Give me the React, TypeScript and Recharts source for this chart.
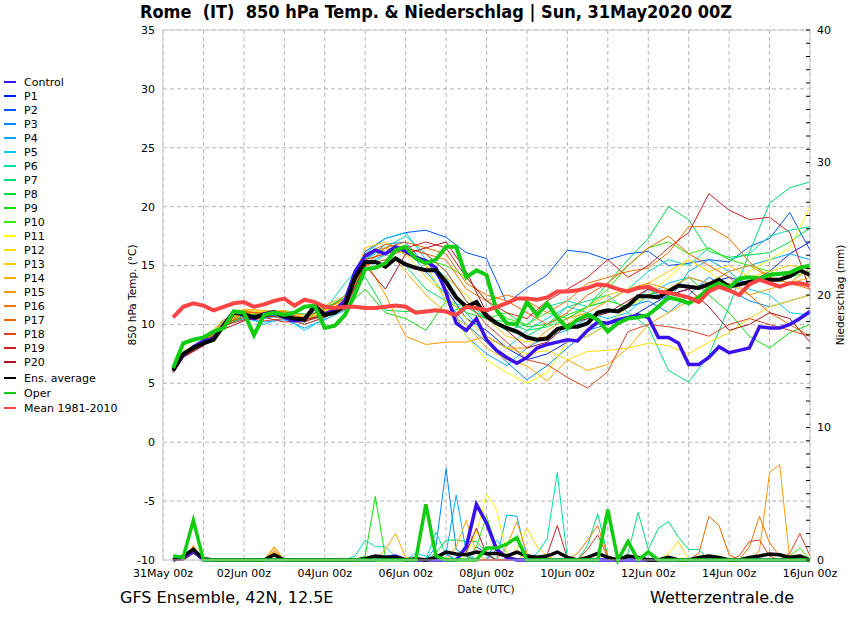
import React from "react";
import { CartesianGrid, Line, LineChart, ReferenceLine, XAxis, YAxis } from "recharts";

const FONT = '"DejaVu Sans", sans-serif';

// time axis: hours after 31May2020 00z, 6-hourly steps
const HOURS = Array.from({ length: 64 }, (_, i) => 6 + i * 6);
const MEMBER_HOURS = [6, 12, 24, 36, 48, 60, 72, 84, 96, 108, 120, 132, 144, 156, 168, 180, 192, 204, 216, 228, 240, 252, 264, 276, 288, 300, 312, 324, 336, 348, 360, 372, 384];

const DAY_TICKS = [0, 24, 48, 72, 96, 120, 144, 168, 192, 216, 240, 264, 288, 312, 336, 360, 384];
const DAY_LABELS = ["31May 00z", "02Jun 00z", "04Jun 00z", "06Jun 00z", "08Jun 00z", "10Jun 00z", "12Jun 00z", "14Jun 00z", "16Jun 00z"];
const TEMP_TICKS = [-10, -5, 0, 5, 10, 15, 20, 25, 30, 35];
const RAIN_TICKS = Array.from({ length: 41 }, (_, i) => i);

// 850 hPa temperature (°C), 6-hourly
const CONTROL_T = [6.1, 7.4, 8.1, 8.6, 8.8, 10.0, 11.1, 10.8, 10.5, 10.9, 11.1, 10.6, 10.3, 10.5, 11.4, 10.9, 11.2, 12.0, 14.5, 15.8, 16.3, 16.0, 16.6, 16.2, 15.7, 15.4, 14.8, 12.7, 10.1, 9.5, 10.5, 8.7, 7.8, 7.2, 6.7, 7.2, 8.0, 8.3, 8.5, 8.7, 8.6, 9.5, 10.2, 10.1, 10.4, 10.6, 10.8, 10.6, 8.9, 8.9, 8.4, 6.6, 6.6, 7.2, 8.1, 7.6, 7.8, 8.0, 9.8, 9.7, 9.7, 10.0, 10.5, 11.1];
const AVG_T = [6.1, 7.5, 8.0, 8.4, 8.7, 9.9, 11.0, 10.9, 10.6, 10.8, 11.0, 10.7, 10.5, 10.4, 11.6, 10.8, 11.0, 11.6, 14.0, 15.3, 15.3, 14.9, 15.6, 15.1, 14.8, 14.6, 14.6, 13.6, 12.3, 11.5, 11.9, 10.7, 10.1, 9.7, 9.4, 8.9, 8.7, 8.8, 9.6, 9.8, 9.8, 10.1, 11.0, 11.2, 11.1, 11.6, 12.4, 12.4, 12.3, 12.8, 13.3, 13.2, 13.1, 13.4, 13.8, 13.2, 13.4, 13.6, 13.9, 13.8, 13.8, 14.1, 14.6, 14.2];
const OPER_T = [6.3, 8.4, 8.7, 8.9, 9.4, 9.7, 11.1, 11.0, 9.1, 10.8, 11.0, 10.8, 11.0, 11.5, 11.6, 9.7, 9.9, 10.8, 12.6, 14.7, 14.8, 15.2, 16.3, 16.6, 15.6, 15.2, 15.5, 16.6, 16.6, 14.0, 14.6, 14.2, 11.2, 10.1, 10.0, 11.9, 10.8, 11.8, 10.6, 9.7, 10.4, 10.8, 10.4, 9.4, 10.1, 10.5, 10.6, 10.8, 11.5, 12.3, 12.1, 11.8, 12.3, 13.1, 13.5, 13.1, 13.9, 14.0, 13.9, 14.2, 14.3, 14.4, 14.8, 15.0];
const MEAN_T = [10.6, 11.5, 11.8, 11.6, 11.2, 11.5, 11.8, 11.9, 11.5, 11.7, 12.0, 12.2, 11.6, 12.1, 11.9, 11.5, 11.4, 11.5, 11.5, 11.4, 11.4, 11.5, 11.6, 11.5, 11.0, 11.1, 11.2, 11.1, 10.8, 11.5, 11.4, 11.2, 11.5, 11.8, 12.2, 12.2, 12.1, 12.3, 12.8, 12.8, 12.9, 13.1, 13.4, 13.3, 13.0, 12.8, 13.1, 13.2, 12.8, 12.7, 12.5, 12.3, 11.9, 12.8, 13.2, 12.9, 12.5, 13.4, 13.8, 13.5, 13.2, 13.5, 13.5, 13.3];

// members, 12-hourly (first value at 06z)
const P1_T = [6.1, 7.4, 8.5, 10.1, 10.8, 10.9, 10.8, 10.2, 10.9, 12.0, 16.0, 16.5, 16.0, 15.5, 13.0, 10.5, 9.5, 8.0, 7.0, 7.5, 8.5, 9.0, 10.0, 10.5, 11.5, 12.5, 13.0, 13.5, 14.0, 13.5, 14.5, 16.0, 17.0];
const P2_T = [6.2, 7.6, 8.5, 10.1, 10.8, 10.9, 10.6, 10.5, 10.9, 11.8, 16.2, 17.3, 17.8, 18.0, 17.4, 16.1, 15.6, 11.8, 13.1, 14.2, 16.3, 16.1, 15.5, 16.0, 16.2, 15.0, 15.2, 15.5, 15.3, 16.6, 17.3, 19.5, 16.3];
const P3_T = [6.0, 7.3, 8.3, 10.4, 11.0, 10.5, 10.9, 10.0, 10.6, 11.5, 15.5, 16.8, 17.0, 15.0, 12.0, 10.0, 8.5, 6.8, 5.3, 6.5, 8.0, 9.5, 10.0, 11.5, 12.0, 11.0, 12.5, 14.0, 13.0, 12.0, 11.5, 12.0, 12.5];
const P4_T = [6.1, 7.5, 8.2, 10.0, 10.5, 10.2, 10.4, 9.7, 10.4, 11.2, 15.0, 16.0, 16.5, 14.5, 12.5, 9.0, 7.5, 6.5, 8.0, 9.0, 9.5, 10.5, 11.0, 11.5, 13.0, 12.0, 14.5, 15.5, 14.5, 15.0, 15.5, 16.0, 15.5];
const P5_T = [6.2, 7.6, 8.6, 10.2, 10.7, 10.0, 10.6, 9.5, 10.5, 12.2, 16.0, 17.3, 17.8, 15.5, 14.0, 11.0, 9.0, 8.0, 9.5, 10.5, 11.5, 11.0, 10.5, 11.0, 12.5, 13.5, 14.0, 13.5, 14.5, 13.0, 12.5, 11.0, 10.8];
const P6_T = [6.0, 7.4, 8.4, 9.8, 11.0, 10.9, 11.2, 10.8, 11.2, 13.5, 15.5, 16.5, 17.5, 16.0, 14.5, 12.0, 10.5, 9.5, 10.0, 11.5, 12.0, 11.5, 12.0, 13.0, 14.5, 15.5, 15.0, 16.5, 15.5, 16.0, 17.5, 18.0, 18.3];
const P7_T = [6.1, 7.5, 8.5, 10.3, 11.1, 11.0, 11.0, 10.9, 11.0, 12.5, 14.5, 16.0, 15.0, 13.0, 12.0, 11.5, 10.5, 9.5, 9.0, 10.0, 11.5, 12.0, 12.5, 11.0, 9.8, 6.1, 5.1, 7.4, 11.5, 16.1, 20.3, 21.6, 22.1];
const P8_T = [6.2, 7.7, 8.6, 10.0, 10.9, 10.7, 10.6, 10.6, 11.4, 12.3, 14.0, 11.2, 11.1, 11.2, 11.0, 11.5, 10.5, 10.2, 9.5, 9.8, 10.5, 11.5, 13.5, 15.5, 17.3, 20.0, 18.9, 16.2, 15.7, 15.9, 16.1, 17.0, 18.2];
const P9_T = [6.0, 7.4, 8.3, 9.9, 10.6, 10.8, 10.9, 10.5, 10.7, 11.4, 13.0, 11.0, 10.5, 9.5, 12.0, 11.0, 10.5, 11.0, 9.8, 10.0, 10.8, 11.5, 12.0, 11.5, 12.5, 13.0, 14.0, 12.5, 11.0, 9.0, 8.0, 9.3, 10.0];
const P10_T = [6.1, 7.5, 8.4, 10.1, 10.7, 10.9, 11.0, 10.3, 11.5, 12.0, 15.0, 16.5, 16.0, 15.5, 15.0, 14.0, 12.0, 10.5, 10.0, 11.0, 10.5, 11.5, 13.0, 15.0, 16.5, 17.0, 16.0, 16.5, 15.5, 15.0, 14.5, 14.0, 14.5];
const P11_T = [6.2, 7.6, 8.5, 10.2, 11.0, 11.1, 10.8, 10.5, 10.8, 11.6, 15.5, 16.0, 16.5, 15.0, 12.0, 9.0, 7.0, 5.9, 5.0, 5.9, 8.5, 9.0, 10.0, 11.5, 12.5, 14.0, 15.5, 14.5, 13.0, 14.5, 15.5, 16.5, 20.0];
const P12_T = [6.1, 7.5, 8.6, 10.0, 10.9, 11.0, 10.7, 10.6, 11.1, 11.8, 15.8, 16.5, 16.0, 14.0, 12.5, 10.5, 9.0, 8.0, 7.5, 7.8, 7.0, 7.7, 7.8, 8.0, 8.4, 8.2, 7.5, 8.5, 9.3, 10.5, 11.5, 12.0, 12.5];
const P13_T = [6.0, 7.5, 8.4, 10.3, 11.2, 11.1, 11.2, 10.6, 11.2, 12.1, 16.5, 17.0, 16.0, 15.0, 14.0, 12.5, 10.5, 9.0, 8.5, 9.0, 10.0, 11.5, 12.5, 13.0, 13.5, 14.5, 15.5, 14.5, 15.0, 14.0, 14.5, 15.0, 14.8];
const P14_T = [6.2, 7.7, 8.7, 10.4, 11.3, 11.2, 11.1, 10.8, 11.6, 12.4, 16.0, 16.5, 14.5, 12.5, 11.0, 10.0, 8.0, 7.0, 6.5, 5.2, 7.0, 6.1, 6.6, 8.0, 10.0, 11.0, 12.0, 13.0, 13.5, 12.5, 13.0, 13.5, 14.0];
const P15_T = [6.1, 7.6, 8.5, 10.2, 11.2, 10.8, 11.0, 10.4, 11.0, 12.0, 15.5, 12.5, 9.0, 8.3, 8.5, 8.5, 9.0, 8.0, 8.0, 9.5, 10.5, 11.0, 12.0, 13.0, 13.5, 13.0, 14.0, 13.5, 14.5, 15.0, 14.0, 13.5, 14.8];
const P16_T = [6.0, 7.4, 8.4, 9.8, 11.0, 11.0, 11.1, 10.2, 10.9, 11.9, 16.0, 16.8, 16.5, 16.0, 15.5, 13.0, 12.0, 12.5, 12.0, 11.0, 12.0, 13.5, 14.0, 14.5, 14.8, 16.1, 18.3, 18.3, 17.3, 15.3, 14.0, 13.5, 13.0];
const P17_T = [6.1, 7.5, 8.6, 10.0, 11.1, 10.9, 10.9, 10.6, 11.3, 12.2, 15.0, 16.5, 17.0, 16.5, 16.0, 13.5, 12.5, 12.0, 11.0, 10.0, 11.0, 12.5, 13.5, 15.0, 16.5, 17.5, 16.0, 15.0, 14.0, 12.5, 11.0, 10.0, 9.0];
const P18_T = [6.2, 7.6, 8.3, 10.1, 10.6, 10.3, 10.5, 10.0, 10.6, 11.3, 15.0, 15.5, 16.5, 16.0, 14.5, 12.0, 10.0, 8.5, 7.0, 6.6, 5.5, 4.6, 6.0, 9.4, 10.0, 9.8, 9.5, 9.0, 10.0, 10.5, 10.0, 9.5, 9.0];
const P19_T = [6.0, 7.3, 8.2, 9.9, 10.4, 10.6, 10.2, 10.3, 10.7, 11.7, 15.5, 16.0, 16.5, 17.0, 16.5, 14.0, 12.0, 11.0, 10.5, 12.0, 13.0, 14.0, 15.5, 14.0, 15.0, 16.5, 17.8, 21.1, 19.7, 18.9, 19.1, 17.8, 12.9];
const P20_T = [5.9, 7.2, 8.2, 9.6, 10.3, 10.7, 10.6, 10.4, 10.8, 11.5, 15.0, 13.0, 16.0, 16.5, 17.0, 14.5, 11.0, 9.5, 8.0, 8.5, 10.0, 10.5, 11.0, 12.0, 13.0, 12.5, 13.0, 11.5, 9.5, 10.0, 11.0, 10.5, 8.5];

// 6h precipitation (mm) as [hour, mm]; every other step is dry
const CONTROL_R = [[12, 0.2], [18, 0.7], [132, 0.2], [138, 0.3], [180, 1.0], [186, 4.2], [192, 2.8], [198, 0.8], [204, 0.2]];
const AVG_R = [[12, 0.3], [18, 0.8], [24, 0.1], [66, 0.4], [120, 0.1], [126, 0.3], [132, 0.2], [138, 0.2], [150, 0.1], [162, 0.2], [168, 0.6], [174, 0.45], [180, 0.4], [186, 0.6], [192, 0.5], [198, 0.5], [204, 0.3], [210, 0.6], [216, 0.3], [222, 0.2], [228, 0.3], [234, 0.6], [240, 0.2], [252, 0.2], [258, 0.5], [264, 0.2], [276, 0.3], [282, 0.2], [300, 0.2], [318, 0.2], [324, 0.3], [330, 0.2], [348, 0.2], [354, 0.3], [360, 0.45], [366, 0.4], [372, 0.2], [378, 0.3]];
const OPER_R = [[6, 0.3], [12, 0.2], [18, 3.0], [156, 4.2], [162, 0.3], [192, 0.9], [198, 0.9], [204, 1.2], [210, 1.7], [264, 3.8], [276, 1.4], [288, 0.6]];
const P1_R = [[12, 0.2], [18, 0.6], [186, 1.0], [192, 0.5]];
const P2_R = [[18, 0.5], [168, 0.5], [198, 0.8]];
const P3_R = [[18, 0.7], [162, 1.0], [168, 6.9], [174, 0.8], [180, 0.3]];
const P4_R = [[18, 0.5], [168, 0.5], [174, 4.9], [180, 0.6], [204, 3.4], [210, 3.3], [216, 0.2]];
const P5_R = [[18, 0.6], [150, 0.5], [156, 0.3], [198, 1.5], [204, 0.5]];
const P6_R = [[18, 0.7], [114, 0.3], [120, 1.5], [126, 1.0], [132, 1.0], [138, 0.2], [162, 2.1], [168, 0.4], [222, 0.5], [228, 1.6], [234, 6.6], [240, 0.1]];
const P7_R = [[18, 0.6], [252, 1.1], [258, 3.5], [264, 0.3], [276, 0.5], [282, 3.6], [288, 0.8], [294, 2.4], [300, 2.9], [306, 1.7], [312, 0.8], [318, 0.8]];
const P8_R = [[18, 0.8], [162, 0.5], [168, 1.5], [174, 1.5], [180, 1.4], [186, 1.4], [192, 0.5]];
const P9_R = [[18, 0.9], [120, 0.3], [126, 4.8], [132, 0.2]];
const P10_R = [[18, 0.8], [186, 1.0], [192, 3.3], [198, 1.0], [372, 0.3], [378, 0.9]];
const P11_R = [[18, 0.6], [180, 0.5], [186, 2.0], [192, 5.0], [198, 3.8], [204, 0.5]];
const P12_R = [[18, 0.7], [66, 0.5], [210, 0.8], [216, 2.4], [222, 1.0], [228, 0.3], [300, 0.5], [306, 1.4]];
const P13_R = [[18, 0.7], [66, 0.6], [216, 0.5]];
const P14_R = [[18, 1.0], [66, 0.9], [132, 0.8], [138, 2.0], [144, 0.2], [174, 1.0], [180, 3.0], [186, 0.5]];
const P15_R = [[18, 1.1], [66, 1.0], [204, 1.0], [210, 2.9], [216, 0.5], [354, 0.7], [360, 6.6], [366, 7.2]];
const P16_R = [[18, 1.0], [66, 0.7], [246, 0.5], [252, 1.5], [258, 2.6], [264, 0.3], [348, 1.0], [354, 3.3], [360, 1.3], [366, 0.3]];
const P17_R = [[18, 0.9], [66, 0.5], [318, 0.5], [324, 3.3], [330, 2.6], [336, 0.4]];
const P18_R = [[18, 0.8], [252, 0.8], [258, 1.9], [264, 0.2], [342, 0.3], [348, 1.4], [354, 1.5], [360, 0.3], [372, 0.5], [378, 2.0], [384, 0.3]];
const P19_R = [[18, 0.6], [228, 0.4], [234, 2.6], [240, 0.1]];
const P20_R = [[18, 0.5], [180, 0.6], [186, 2.4], [192, 0.4]];

const MEMBER_NAMES = ["P1", "P2", "P3", "P4", "P5", "P6", "P7", "P8", "P9", "P10", "P11", "P12", "P13", "P14", "P15", "P16", "P17", "P18", "P19", "P20"];
const MEMBER_COLORS = ["#0022ee", "#0055ff", "#0088ff", "#00aaff", "#00ccee", "#00ddaa", "#00dd77", "#00dd44", "#11dd11", "#33ee00", "#ffff00", "#ffdd00", "#ffcc00", "#ffaa00", "#ff9900", "#ee7700", "#ee6600", "#dd4422", "#cc2222", "#aa1122"];
const MEMBER_T = [P1_T, P2_T, P3_T, P4_T, P5_T, P6_T, P7_T, P8_T, P9_T, P10_T, P11_T, P12_T, P13_T, P14_T, P15_T, P16_T, P17_T, P18_T, P19_T, P20_T];
const MEMBER_R = [P1_R, P2_R, P3_R, P4_R, P5_R, P6_R, P7_R, P8_R, P9_R, P10_R, P11_R, P12_R, P13_R, P14_R, P15_R, P16_R, P17_R, P18_R, P19_R, P20_R];

const CONTROL_COLOR = "#3a10f0";
const OPER_COLOR = "#11cc11";
const MEAN_COLOR = "#ff4444";

const rainAt = (pairs: number[][], h: number) => {
  const hit = pairs.find((p) => p[0] === h);
  return hit ? hit[1] : 0;
};

const rows = HOURS.map((h, i) => {
  const row: Record<string, number | null> = {
    h,
    ctrl: CONTROL_T[i],
    avg: AVG_T[i],
    oper: OPER_T[i],
    mean: MEAN_T[i],
    rCtrl: rainAt(CONTROL_R, h),
    rAvg: rainAt(AVG_R, h),
    rOper: rainAt(OPER_R, h),
  };
  const k = MEMBER_HOURS.indexOf(h);
  MEMBER_NAMES.forEach((name, m) => {
    row["t" + name] = k >= 0 ? MEMBER_T[m][k] : null;
    row["r" + name] = rainAt(MEMBER_R[m], h);
  });
  return row;
});

const LEGEND = [
  ["Control", CONTROL_COLOR],
  ...MEMBER_NAMES.map((n, i) => [n, MEMBER_COLORS[i]]),
  ["Ens. average", "#000000"],
  ["Oper", OPER_COLOR],
  ["Mean 1981-2010", MEAN_COLOR],
];

function RainTick(props: any) {
  const { x, y, payload } = props;
  return (
    <g>
      <line x1={x - 4} x2={x} y1={y} y2={y} stroke="#000" strokeWidth={1} />
      {payload.value % 10 === 0 && (
        <text x={x + 7} y={y} dy="0.35em" fontSize={11} fontFamily={FONT} fill="#000">
          {payload.value}
        </text>
      )}
    </g>
  );
}

const tickStyle = { fontSize: 11, fill: "#000", fontFamily: FONT };

export default function App() {
  return (
    <div style={{ position: "absolute", left: 0, top: 0, width: 850, height: 620, background: "#fff", fontFamily: FONT }}>
      <div style={{ position: "absolute", left: 436, top: 12, transform: "translate(-50%, -50%)", whiteSpace: "nowrap", fontSize: 18, fontWeight: "bold", fontFamily: '"DejaVu Sans Condensed", "DejaVu Sans", sans-serif', fontStretch: "condensed", lineHeight: 1 }}>
        Rome&nbsp; (IT)&nbsp; 850 hPa Temp. &amp; Niederschlag | Sun, 31May2020 00Z
      </div>

      <LineChart width={850} height={620} data={rows} margin={{ top: 30, right: 0, left: 123, bottom: 40 }}>
        <CartesianGrid stroke="#b4b4b4" strokeDasharray="4 3" />
        <XAxis
          dataKey="h"
          type="number"
          domain={[0, 384]}
          ticks={DAY_TICKS}
          interval={0}
          tickFormatter={(v: number) => (v % 48 === 0 ? DAY_LABELS[v / 48] : "")}
          axisLine={{ stroke: "#cccccc" }}
          tickLine={false}
          tickSize={0}
          tickMargin={9}
          height={20}
          tick={tickStyle}
        />
        <YAxis
          domain={[-10, 35]}
          ticks={TEMP_TICKS}
          interval={0}
          width={40}
          axisLine={{ stroke: "#cccccc" }}
          tickLine={false}
          tickSize={0}
          tickMargin={8}
          tick={tickStyle}
        />
        <YAxis
          yAxisId="rain"
          orientation="right"
          domain={[0, 40]}
          ticks={RAIN_TICKS}
          interval={0}
          width={40}
          axisLine={{ stroke: "#cccccc" }}
          tickLine={false}
          tickSize={0}
          tickMargin={0}
          tick={<RainTick />}
        />
        <ReferenceLine y={35} stroke="#cccccc" />

        {MEMBER_NAMES.map((n, i) => (
          <Line key={"r" + n} yAxisId="rain" dataKey={"r" + n} stroke={MEMBER_COLORS[i]} strokeWidth={1} dot={false} isAnimationActive={false} />
        ))}
        {MEMBER_NAMES.map((n, i) => (
          <Line key={"t" + n} dataKey={"t" + n} stroke={MEMBER_COLORS[i]} strokeWidth={1} dot={false} connectNulls isAnimationActive={false} />
        ))}

        <Line yAxisId="rain" dataKey="rCtrl" stroke={CONTROL_COLOR} strokeWidth={3.5} dot={false} isAnimationActive={false} />
        <Line dataKey="ctrl" stroke={CONTROL_COLOR} strokeWidth={3.5} dot={false} isAnimationActive={false} />
        <Line yAxisId="rain" dataKey="rAvg" stroke="#000" strokeWidth={3.5} dot={false} isAnimationActive={false} />
        <Line dataKey="avg" stroke="#000" strokeWidth={4} dot={false} isAnimationActive={false} />
        <Line yAxisId="rain" dataKey="rOper" stroke={OPER_COLOR} strokeWidth={3.5} dot={false} isAnimationActive={false} />
        <Line dataKey="oper" stroke={OPER_COLOR} strokeWidth={4} dot={false} isAnimationActive={false} />
        <Line dataKey="mean" stroke={MEAN_COLOR} strokeWidth={4} dot={false} isAnimationActive={false} />
      </LineChart>

      {LEGEND.map(([name, color], i) => {
        const y = i <= 20 ? 82 + i * 14 : 378 + (i - 21) * 15;
        return (
          <div key={name} style={{ position: "absolute", left: 0, top: y - 7, height: 14, display: "flex", alignItems: "center", fontSize: 11, whiteSpace: "nowrap" }}>
            <div style={{ marginLeft: 4, width: 12, height: 2, background: color }} />
            <span style={{ marginLeft: 8 }}>{name}</span>
          </div>
        );
      })}

      <div style={{ position: "absolute", left: 132, top: 295, transform: "translate(-50%, -50%) rotate(-90deg)", whiteSpace: "nowrap", fontSize: 10.5, lineHeight: 1 }}>
        850 hPa Temp. (°C)
      </div>
      <div style={{ position: "absolute", left: 840, top: 295, transform: "translate(-50%, -50%) rotate(-90deg)", whiteSpace: "nowrap", fontSize: 10.5, lineHeight: 1 }}>
        Niederschlag (mm)
      </div>
      <div style={{ position: "absolute", left: 486, top: 589, transform: "translate(-50%, -50%)", whiteSpace: "nowrap", fontSize: 10.5, lineHeight: 1 }}>
        Date (UTC)
      </div>
      <div style={{ position: "absolute", left: 120, top: 598, transform: "translateY(-50%)", whiteSpace: "nowrap", fontSize: 16, lineHeight: 1 }}>
        GFS Ensemble, 42N, 12.5E
      </div>
      <div style={{ position: "absolute", left: 650, top: 598, transform: "translateY(-50%)", whiteSpace: "nowrap", fontSize: 16, lineHeight: 1 }}>
        Wetterzentrale.de
      </div>
    </div>
  );
}
